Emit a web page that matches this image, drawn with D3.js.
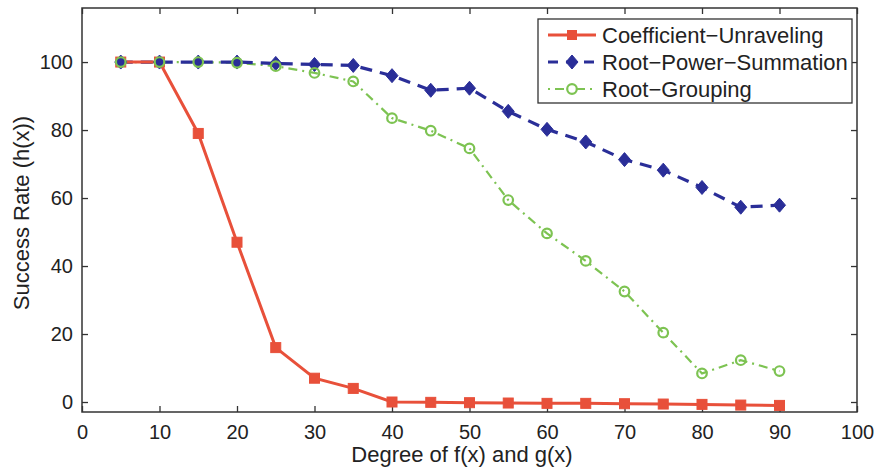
<!DOCTYPE html>
<html><head><meta charset="utf-8">
<script src="https://cdn.jsdelivr.net/npm/d3@7"></script>
<style>body{margin:0;background:#fff}svg{display:block}text{font-family:"Liberation Sans",Arial,Helvetica,sans-serif;fill:#222}</style>
</head><body>
<script>
const degrees = [5,10,15,20,25,30,35,40,45,50,55,60,65,70,75,80,85,90];
const coefUnravel = [100,100,79,47,16,7,4,0,-0.1,-0.2,-0.3,-0.4,-0.4,-0.5,-0.6,-0.7,-0.9,-1];
const rootPowerSum = [100,100,100,100,99.6,99.3,99,96,91.7,92.3,85.5,80.2,76.5,71.3,68.2,63.1,57.3,57.9];
const rootGrouping = [100,100,100,99.8,98.8,96.8,94.3,83.5,79.8,74.6,59.4,49.6,41.5,32.5,20.4,8.4,12.3,9.1];
const xTicks = [0,10,20,30,40,50,60,70,80,90,100];
const yTicks = [0,20,40,60,80,100];
const seriesNames = ["Coefficient\u2212Unraveling","Root\u2212Power\u2212Summation","Root\u2212Grouping"];

const W=879,H=469;
const L=82,R=857,T=8,B=412;
const svg=d3.select("body").append("svg").attr("width",W).attr("height",H);
const x=d3.scaleLinear().domain([0,100]).range([L,R]);
const y=d3.scaleLinear().domain([-2.94,115.9]).range([B,T]);

svg.append("rect").attr("x",L).attr("y",T).attr("width",R-L).attr("height",B-T)
  .attr("fill","none").attr("stroke","#333").attr("stroke-width",1.5);

const fs="20px", lfs="22px";
const gx=svg.append("g").attr("transform",`translate(0,${B})`)
  .call(d3.axisBottom(x).tickValues(xTicks).tickSize(-6).tickPadding(13).tickSizeOuter(0));
const gxt=svg.append("g").attr("transform",`translate(0,${T})`)
  .call(d3.axisTop(x).tickValues(xTicks).tickSize(-6).tickFormat("").tickSizeOuter(0));
const gy=svg.append("g").attr("transform",`translate(${L},0)`)
  .call(d3.axisLeft(y).tickValues(yTicks).tickSize(-6).tickPadding(9).tickSizeOuter(0));
const gyr=svg.append("g").attr("transform",`translate(${R},0)`)
  .call(d3.axisRight(y).tickValues(yTicks).tickSize(-6).tickFormat("").tickSizeOuter(0));
[gx,gxt,gy,gyr].forEach(g=>{
  g.select(".domain").remove();
  g.selectAll("line").attr("stroke","#333").attr("stroke-width",1.3);
  g.selectAll("text").attr("font-size",fs).attr("fill","#222")
    .attr("font-family","'Liberation Sans',Arial,sans-serif");
});

svg.append("text").attr("x",462).attr("y",462).attr("text-anchor","middle")
  .attr("font-size",lfs).text("Degree of f(x) and g(x)");
svg.append("text").attr("transform",`translate(29,213) rotate(-90)`)
  .attr("text-anchor","middle").attr("font-size",lfs).text("Success Rate (h(x))");

const line=d3.line().x((d,i)=>x(degrees[i])).y(d=>y(d));
const red="#e8503a", blue="#2a2e98", green="#7dc352";

svg.append("path").datum(rootGrouping).attr("d",line).attr("fill","none")
  .attr("stroke",green).attr("stroke-width",2.2).attr("stroke-dasharray","9,5,2,5");
svg.append("path").datum(rootPowerSum).attr("d",line).attr("fill","none")
  .attr("stroke",blue).attr("stroke-width",3.2).attr("stroke-dasharray","12,8");
svg.append("path").datum(coefUnravel).attr("d",line).attr("fill","none")
  .attr("stroke",red).attr("stroke-width",3);

svg.append("g").selectAll("rect").data(coefUnravel).join("rect")
  .attr("x",(d,i)=>x(degrees[i])-5).attr("y",d=>y(d)-5).attr("width",10).attr("height",10)
  .attr("fill",red).attr("stroke",red).attr("stroke-width",1);
const diamond="M0,-7L6,0L0,7L-6,0Z";
svg.append("g").selectAll("path").data(rootPowerSum).join("path")
  .attr("d",diamond).attr("transform",(d,i)=>`translate(${x(degrees[i])},${y(d)})`)
  .attr("fill",blue).attr("stroke",blue).attr("stroke-width",1);
svg.append("g").selectAll("circle").data(rootGrouping).join("circle")
  .attr("cx",(d,i)=>x(degrees[i])).attr("cy",d=>y(d)).attr("r",4.8)
  .attr("fill","none").attr("stroke",green).attr("stroke-width",2.2);

const lg=svg.append("g");
lg.append("rect").attr("x",538).attr("y",19).attr("width",314).attr("height",84)
  .attr("fill","#fff").attr("stroke","#333").attr("stroke-width",1.3);
const rows=[35,62,89];
const lx1=548,lx2=596,lm=572;
lg.append("line").attr("x1",lx1).attr("x2",lx2).attr("y1",rows[0]).attr("y2",rows[0]).attr("stroke",red).attr("stroke-width",3);
lg.append("rect").attr("x",lm-5).attr("y",rows[0]-5).attr("width",10).attr("height",10).attr("fill",red);
lg.append("line").attr("x1",lx1).attr("x2",lx2).attr("y1",rows[1]).attr("y2",rows[1]).attr("stroke",blue).attr("stroke-width",3.2).attr("stroke-dasharray","10,8");
lg.append("path").attr("d",diamond).attr("transform",`translate(${lm},${rows[1]})`).attr("fill",blue).attr("stroke",blue);
lg.append("line").attr("x1",lx1).attr("x2",lx2).attr("y1",rows[2]).attr("y2",rows[2]).attr("stroke",green).attr("stroke-width",2.2).attr("stroke-dasharray","2,5,9,5");
lg.append("circle").attr("cx",lm).attr("cy",rows[2]).attr("r",4.8).attr("fill","#fff").attr("stroke",green).attr("stroke-width",2.2);
seriesNames.forEach((n,i)=>{
  lg.append("text").attr("x",602).attr("y",rows[i]).attr("dy","0.35em").attr("font-size",lfs).text(n);
});
</script>
</body></html>
